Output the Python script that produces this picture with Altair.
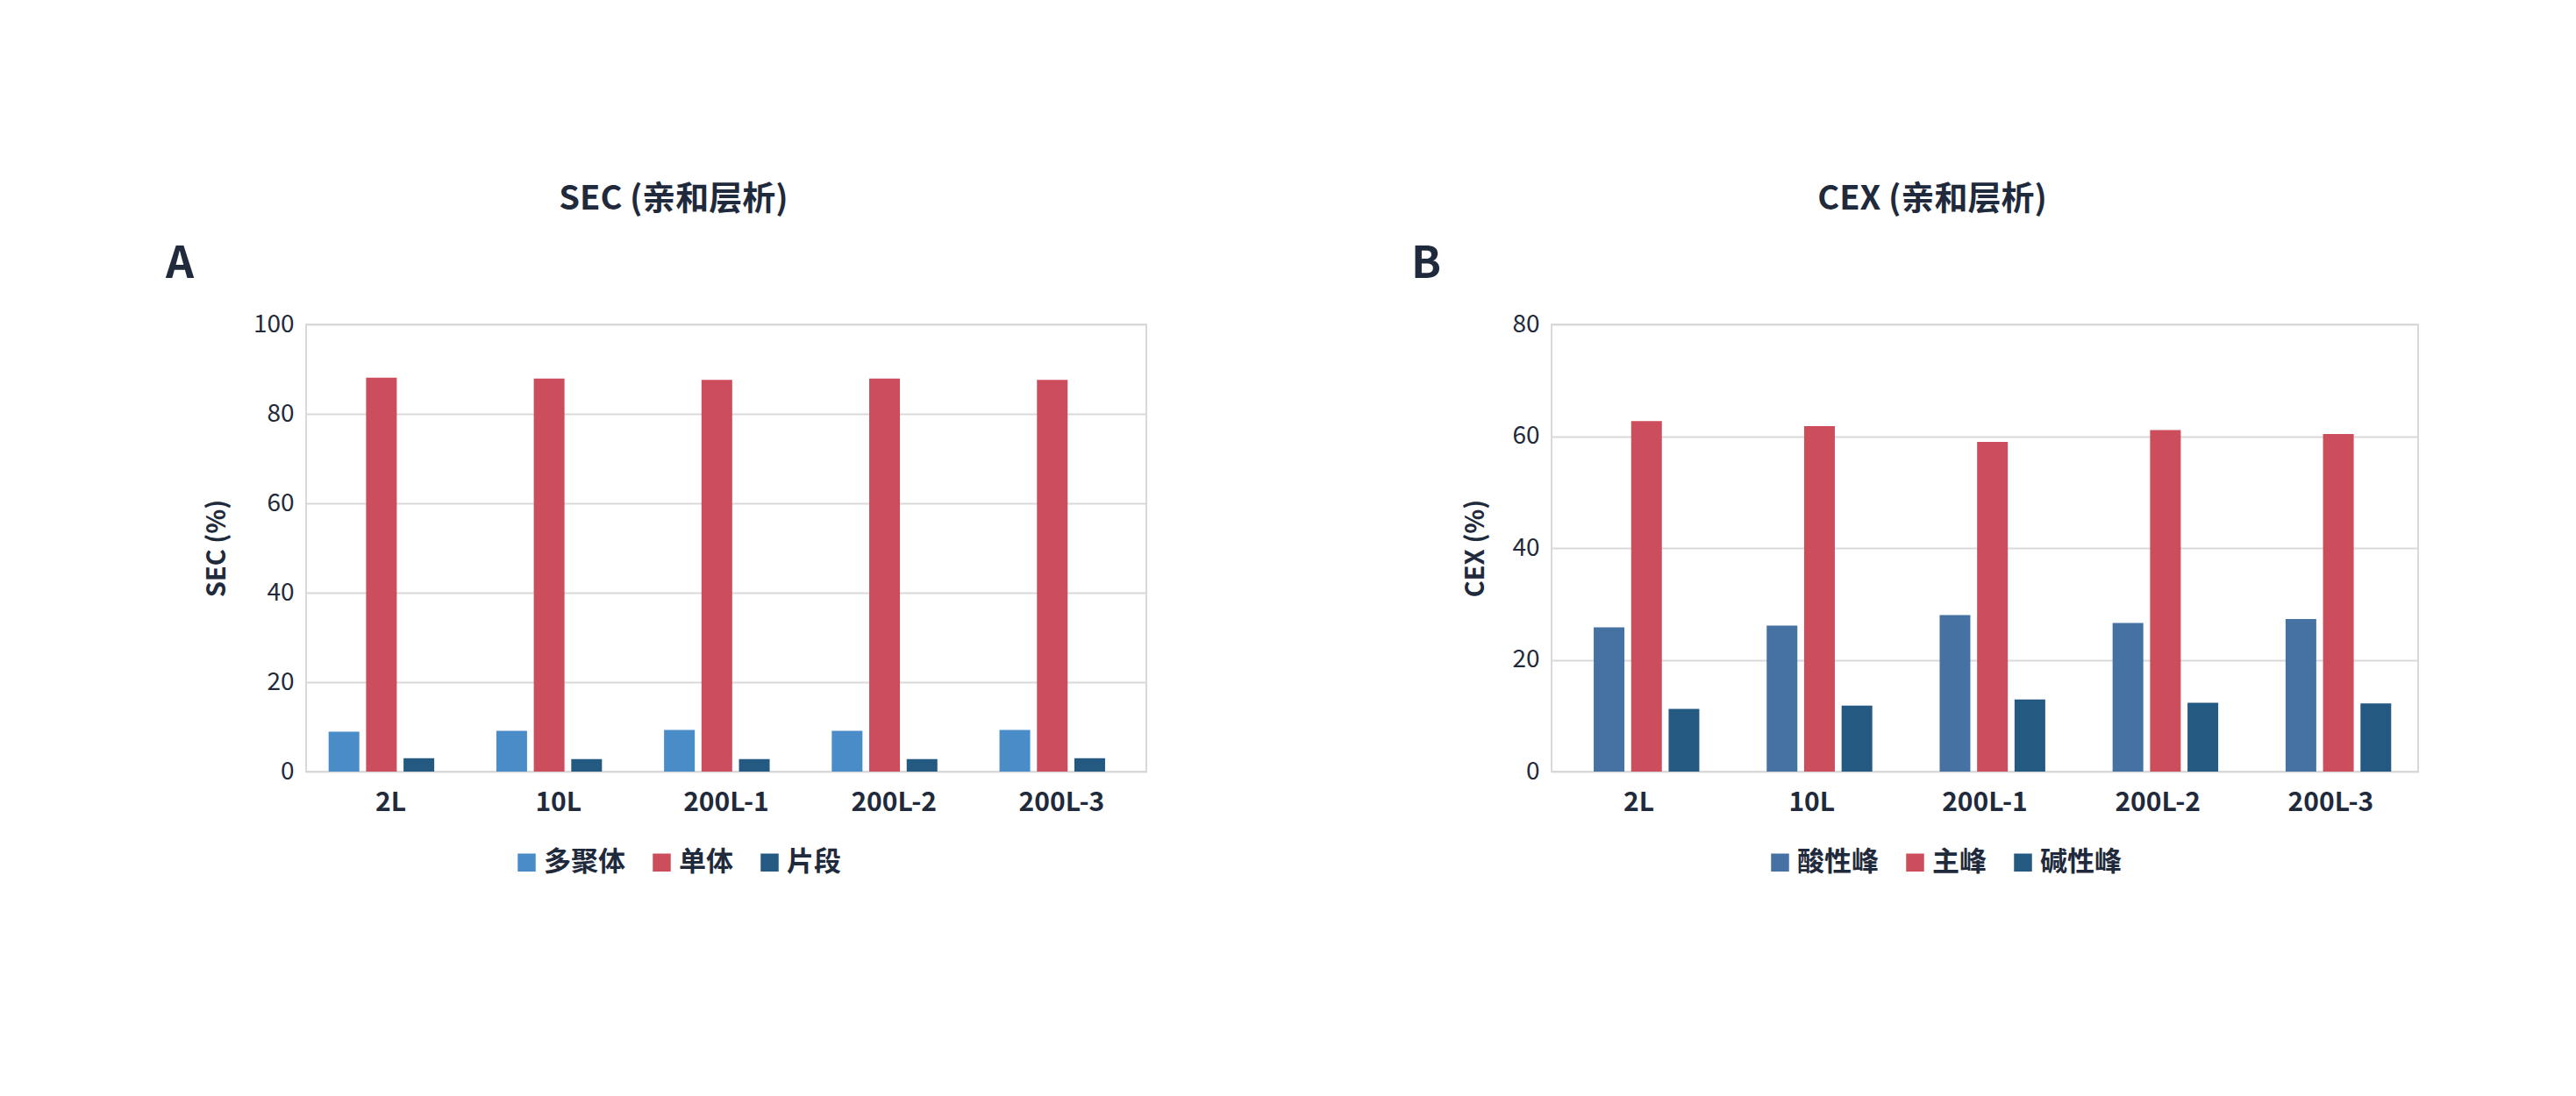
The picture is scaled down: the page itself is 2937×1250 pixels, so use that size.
import altair as alt
import pandas as pd

batches = ["2L", "10L", "200L-1", "200L-2", "200L-3"]

sec_series = ["多聚体", "单体", "片段"]
sec_multimer = [8.9, 9.1, 9.3, 9.1, 9.3]
sec_monomer = [88.1, 87.9, 87.6, 87.9, 87.6]
sec_fragment = [3.0, 2.8, 2.8, 2.8, 3.0]

cex_series = ["酸性峰", "主峰", "碱性峰"]
cex_acidic = [25.8, 26.1, 28.0, 26.6, 27.3]
cex_main = [62.7, 61.8, 59.0, 61.1, 60.4]
cex_basic = [11.2, 11.8, 12.9, 12.3, 12.2]

FONT = "Noto Sans CJK SC"
TEXT = "#1f2a3c"


def to_long(series_names, columns):
    rows = []
    for name, values in zip(series_names, columns):
        for b, v in zip(batches, values):
            rows.append({"batch": b, "series": name, "value": v})
    return pd.DataFrame(rows)


def panel(df, series_names, colors, ymax, ytitle, title, letter, width, legend_x):
    bars = (
        alt.Chart(df)
        .mark_bar(width=35)
        .encode(
            x=alt.X(
                "batch:N",
                sort=batches,
                title=None,
                scale=alt.Scale(paddingInner=0.33, paddingOuter=0.17),
                axis=alt.Axis(labelAngle=0, labelFontWeight="bold", labelFontSize=30,
                              labelColor=TEXT, labelPadding=20, domain=False, ticks=False),
            ),
            xOffset=alt.XOffset("series:N", sort=series_names,
                                scale=alt.Scale(paddingInner=0, paddingOuter=0)),
            y=alt.Y(
                "value:Q",
                title=ytitle,
                scale=alt.Scale(domain=[0, ymax]),
                axis=alt.Axis(tickCount=ymax // 20, labelFontSize=28, labelColor=TEXT,
                              titleFontSize=29, titleColor=TEXT, titlePadding=26,
                              domain=False, ticks=False, gridColor="#d9d9d9",
                              gridWidth=2, labelPadding=14),
            ),
            color=alt.Color(
                "series:N",
                sort=series_names,
                scale=alt.Scale(domain=series_names, range=colors),
                legend=alt.Legend(orient="none", legendX=legend_x, legendY=598,
                                  direction="horizontal", title=None, symbolType="square",
                                  symbolSize=420, labelFontSize=31, labelColor=TEXT,
                                  labelFontWeight="bold", columnPadding=26),
            ),
        )
    )
    label = alt.Chart(pd.DataFrame({"t": [letter]})).mark_text(
        font=FONT, fontSize=50, fontWeight="bold", color=TEXT, align="left",
        baseline="middle"
    ).encode(text="t:N", x=alt.value(-160), y=alt.value(-68))
    return alt.layer(bars, label).properties(
        width=width,
        height=510,
        title=alt.TitleParams(title, fontSize=38, fontWeight="bold", color=TEXT,
                              offset=30, dx=-60),
    )


sec_df = to_long(sec_series, [sec_multimer, sec_monomer, sec_fragment])
cex_df = to_long(cex_series, [cex_acidic, cex_main, cex_basic])

a = panel(sec_df, sec_series, ["#4a8cc7", "#cc4d5c", "#245a82"], 100, "SEC (%)",
          "SEC (亲和层析)", "A", 958, 236)
b = panel(cex_df, cex_series, ["#4672a3", "#cc4d5c", "#245a82"], 80, "CEX (%)",
          "CEX (亲和层析)", "B", 988, 245)

chart = (
    alt.hconcat(a, b, spacing=300)
    .resolve_scale(color="independent")
    .properties(padding={"left": 180, "top": 200, "right": 20, "bottom": 20})
    .configure(font=FONT, background="white")
    .configure_view(stroke="#d9d9d9", strokeWidth=2)
)

chart.save("out.html", embed_options={"renderer": "svg", "actions": False})
